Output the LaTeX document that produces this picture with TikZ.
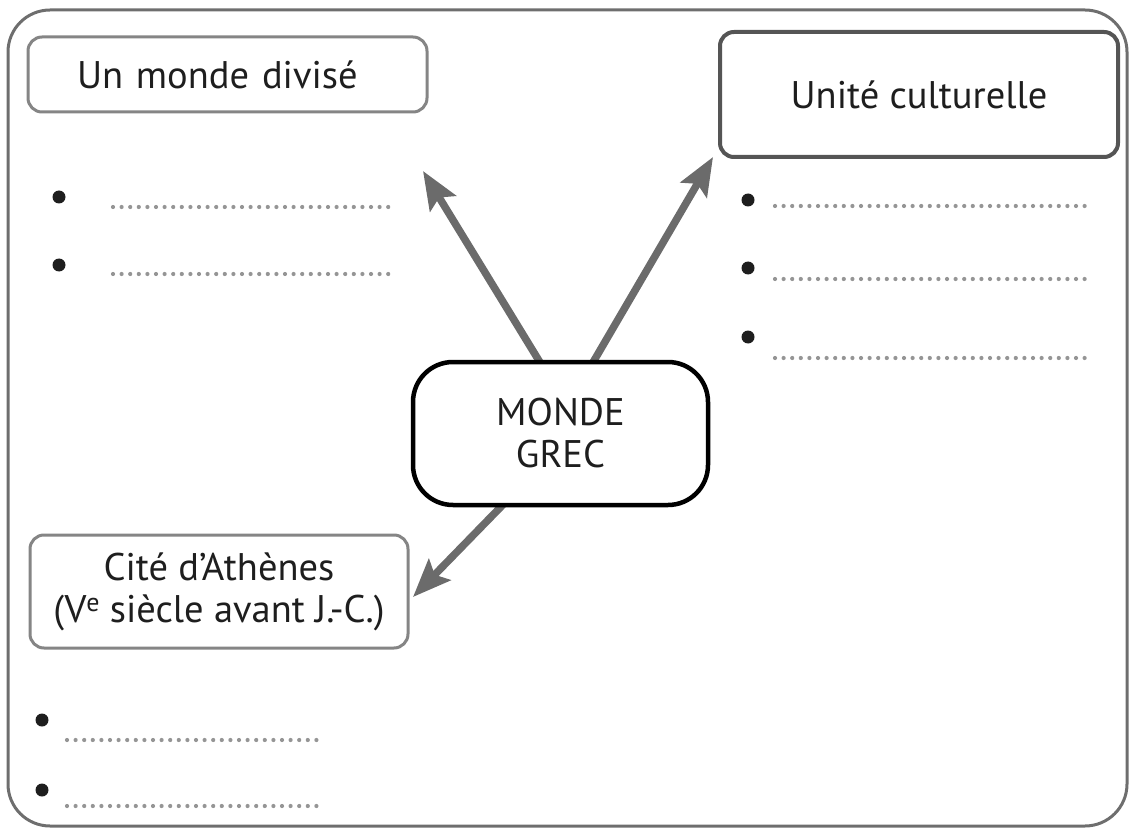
\documentclass[tikz,border=0pt]{standalone}
\usepackage{fontspec}
\setmainfont{PT Sans}
\usetikzlibrary{arrows.meta,backgrounds}
\definecolor{griscadre}{HTML}{6E6E6E}
\definecolor{grisclair}{HTML}{858585}
\definecolor{grisfonce}{HTML}{555555}
\definecolor{grisfleche}{HTML}{6B6B6B}
\definecolor{grispoint}{HTML}{959595}
\definecolor{texte}{HTML}{1E1E1E}
\tikzset{
  boite/.style={draw=grisclair,line width=3pt,rounded corners=14pt,fill=white,
    text=texte,inner sep=0pt,font=\fontsize{38.5}{42}\selectfont},
  fleche/.style={draw=grisfleche,line width=7.5pt,
    -{Stealth[length=38pt,width=30pt,inset=7pt]}},
  pointille/.style={draw=grispoint,line width=4.2pt,line cap=round,
    dash pattern=on 0pt off 8.6pt},
  puce/.style={circle,fill=texte,minimum size=13pt,inner sep=0pt}
}
\begin{document}
\begin{tikzpicture}[x=1pt,y=-1pt]
\useasboundingbox (0,0) rectangle (1130,829);
% cadre general
\draw[griscadre,line width=3pt,rounded corners=42pt] (8,10) rectangle (1127,826);
% les boites
\node[boite,minimum width=399pt,minimum height=75pt,text width=301pt,
  align=left] (divise) at (227.5,74.5) {Un monde divisé};
\node[boite,draw=grisfonce,line width=4pt,minimum width=398pt,
  minimum height=125pt] (culture) at (919,94.5) {Unité culturelle};
\node[boite,draw=black,line width=4.5pt,rounded corners=40pt,
  minimum width=295pt,minimum height=143pt,align=center]
  (grec) at (560.5,433.5) {MONDE\\GREC};
\node[boite,minimum width=378pt,minimum height=113pt,align=center]
  (athenes) at (219,591.5) {Cité d’Athènes\\(V\raisebox{0.55ex}{\fontsize{26}{26}\selectfont e} siècle avant J.-C.)};
% bouts des fleches
\coordinate (g1) at (563,400);
\coordinate (g2) at (571,400);
\coordinate (g3) at (527,480);
\coordinate (versdivise) at (423,171);
\coordinate (versculture) at (713,157);
\coordinate (versathenes) at (413,597);
\begin{scope}[on background layer]
  \draw[fleche] (g1) -- (versdivise);
  \draw[fleche] (g2) -- (versculture);
  \draw[fleche] (g3) -- (versathenes);
\end{scope}
% puces et lignes pointillees
\foreach \y/\l in {197/207,265/274}{
  \node[puce] at (59,\y) {};
  \draw[pointille] (113,\l) -- (396,\l);
}
\foreach \y/\l in {200/206,268/279,337/358}{
  \node[puce] at (748,\y) {};
  \draw[pointille] (775,\l) -- (1088,\l);
}
\foreach \y/\l in {720/740,790/806}{
  \node[puce] at (42,\y) {};
  \draw[pointille] (67,\l) -- (318,\l);
}
\end{tikzpicture}
\end{document}
